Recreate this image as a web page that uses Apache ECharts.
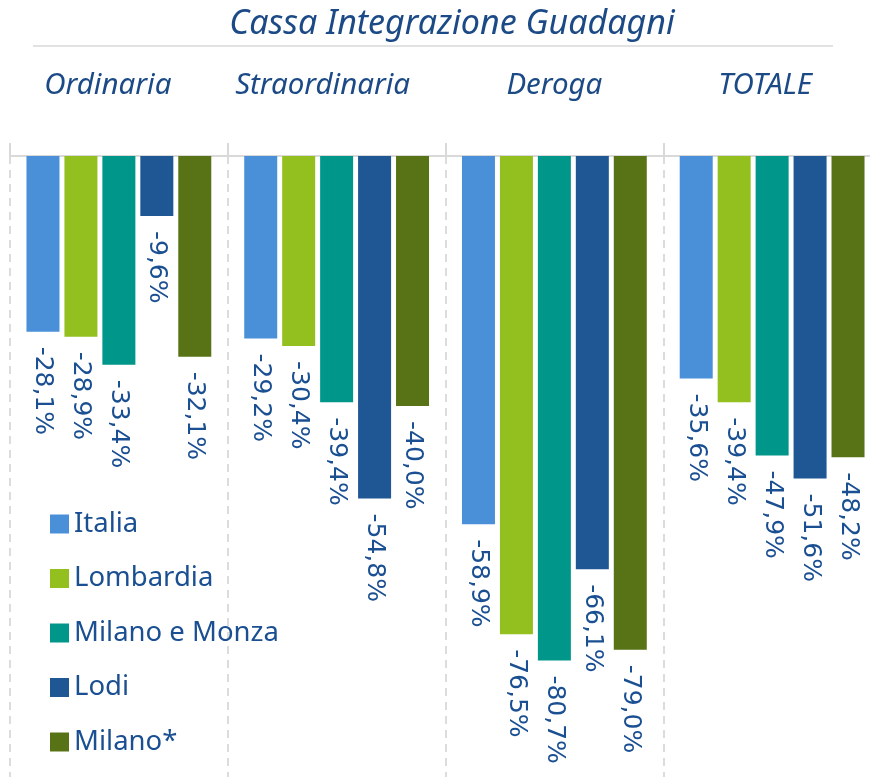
<!DOCTYPE html>
<html>
<head>
<meta charset="utf-8">
<script src="https://cdn.jsdelivr.net/npm/echarts@6/dist/echarts.min.js"></script>
<style>
  html, body { margin: 0; padding: 0; background: #fff; }
  #main { width: 870px; height: 777px; }
</style>
</head>
<body>
<div id="main"></div>
<script>
    // dati
    var categorie = ['Ordinaria', 'Straordinaria', 'Deroga', 'TOTALE'];
    var italia = [-28.1, -29.2, -58.9, -35.6];
    var lombardia = [-28.9, -30.4, -76.5, -39.4];
    var milanoMonza = [-33.4, -39.4, -80.7, -47.9];
    var lodi = [-9.6, -54.8, -66.1, -51.6];
    var milano = [-32.1, -40.0, -79.0, -48.2];

    var nomi = ['Italia', 'Lombardia', 'Milano e Monza', 'Lodi', 'Milano*'];
    var colori = ['#4A90D9', '#93BF1F', '#00968A', '#1F5694', '#587216'];
    var valori = [italia, lombardia, milanoMonza, lodi, milano];

    var blu = '#1B4A86';
    var font = '"Noto Sans", sans-serif';

    // piccolo spostamento a sinistra delle etichette di categoria
    var spost = [11, 14, 0, 7];
    var stileEtichette = {};
    spost.forEach(function (s, i) {
        stileEtichette['c' + i] = {
            color: blu,
            fontSize: 29.5,
            fontStyle: 'italic',
            fontFamily: font,
            padding: [0, s * 2, 0, 0]
        };
    });

    var serie = nomi.map(function (n, i) {
        return {
            name: n,
            type: 'bar',
            data: valori[i],
            barWidth: 33,
            barGap: '15%',
            itemStyle: { color: colori[i] },
            label: {
                show: true,
                position: 'bottom',
                distance: 15,
                rotate: -90,
                align: 'left',
                verticalAlign: 'middle',
                color: '#1A4F92',
                fontSize: 25,
                fontFamily: '"DejaVu Sans", sans-serif',
                formatter: function (p) {
                    return p.value.toFixed(1).replace('.', ',') + '%';
                }
            }
        };
    });

    var myChart = echarts.init(document.getElementById('main'));
    var option = {
        animation: false,
        title: {
            text: 'Cassa Integrazione Guadagni',
            left: 447,
            textAlign: 'center',
            top: 2,
            textStyle: {
                color: blu,
                fontSize: 34,
                fontStyle: 'italic',
                fontWeight: 'normal',
                fontFamily: font
            }
        },
        graphic: [{
            type: 'line',
            shape: { x1: 33, y1: 46, x2: 833, y2: 46 },
            style: { stroke: '#E2E2E2', lineWidth: 2 }
        }],
        legend: {
            data: nomi,
            orient: 'vertical',
            left: 45,
            top: 505,
            itemWidth: 19,
            itemHeight: 19,
            itemGap: 26.5,
            icon: 'rect',
            textStyle: {
                color: '#1A4F92',
                fontSize: 27.5,
                lineHeight: 27,
                fontFamily: font
            }
        },
        grid: {
            left: 10,
            width: 871,
            top: 156,
            bottom: -4,
            outerBoundsMode: 'none'
        },
        xAxis: {
            type: 'category',
            position: 'top',
            data: categorie,
            axisLine: { lineStyle: { color: '#D9D9D9', width: 2 } },
            axisTick: { show: true, interval: 0, length: 13, lineStyle: { color: '#D9D9D9', width: 2 } },
            axisLabel: {
                interval: 0,
                hideOverlap: false,
                margin: 55,
                color: blu,
                fontSize: 29.5,
                fontStyle: 'italic',
                fontFamily: font,
                formatter: function (v, idx) {
                    return '{c' + idx + '|' + v + '}';
                },
                rich: stileEtichette
            },
            splitLine: {
                show: true,
                interval: 0,
                lineStyle: { color: '#DCDCDC', width: 2, type: [8, 6] }
            }
        },
        yAxis: {
            type: 'value',
            min: -100,
            max: 0,
            show: false,
            splitLine: { show: false }
        },
        series: serie
    };
    myChart.setOption(option);
</script>
</body>
</html>
